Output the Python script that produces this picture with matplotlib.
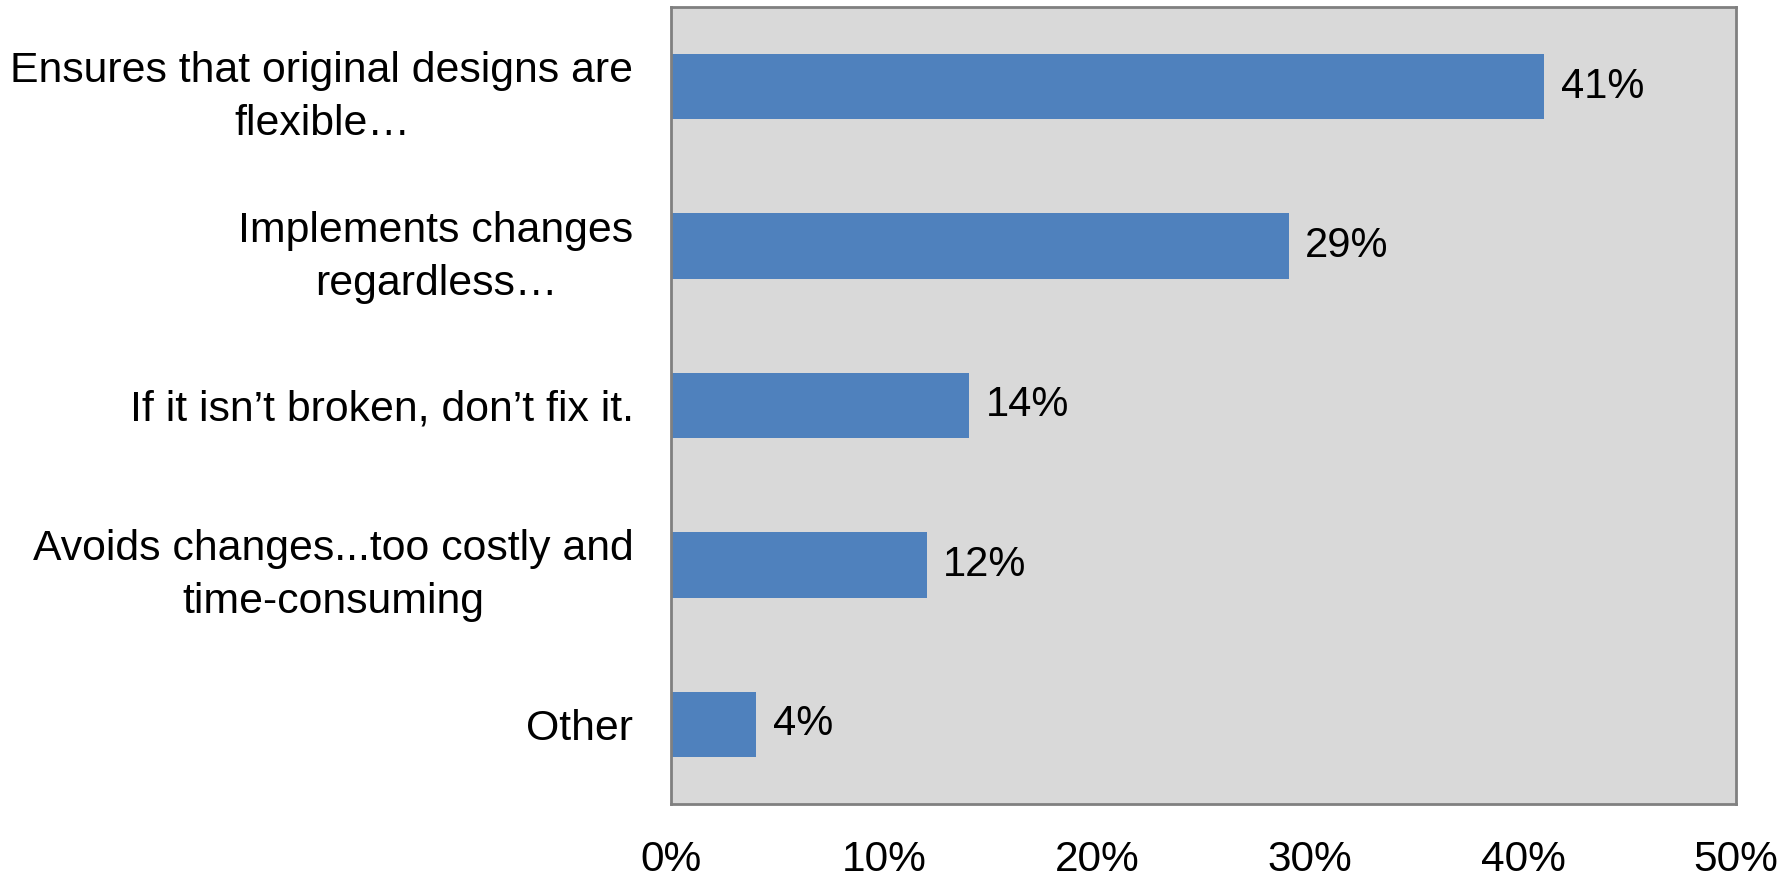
import matplotlib

matplotlib.use('Agg')

import matplotlib.pyplot as plt

plt.rcParams['font.family'] = ['Liberation Sans', 'DejaVu Sans']

# survey answers, top to bottom
categories = [
    "Ensures that original designs are\nflexible…",
    "Implements changes\nregardless…",
    "If it isn’t broken, don’t fix it.",
    "Avoids changes...too costly and\ntime-consuming",
    "Other",
]
values = [41, 29, 14, 12, 4]
xticks = [0, 10, 20, 30, 40, 50]


def main():
    fig = plt.figure(figsize=(17.88, 8.73), dpi=100)
    ax = fig.add_axes([671 / 1788, 1 - 804 / 873, (1736 - 671) / 1788, (804 - 7) / 873])

    pos = list(range(len(values)))
    ax.barh(pos, values, height=0.41, color='#4F81BD', zorder=2)
    ax.set_ylim(len(values) - 0.5, -0.5)
    ax.set_xlim(0, 50)
    ax.set_facecolor('#D9D9D9')

    for s in ax.spines.values():
        s.set_color('#808080')
        s.set_linewidth(2)

    ax.set_yticks(pos)
    ax.set_yticklabels(categories, fontsize=30.8, multialignment='center', linespacing=1.42)
    ax.set_xticks(xticks)
    ax.set_xticklabels(["{}%".format(t) for t in xticks], fontsize=30.5)
    ax.tick_params(axis='y', length=0, pad=27)
    ax.tick_params(axis='x', length=0, pad=26)

    for p, v in zip(pos, values):
        ax.annotate("{}%".format(v), (v, p), xytext=(12, 0), textcoords='offset points',
                    va='center', ha='left', fontsize=30)

    fig.savefig('out.png', dpi=100)


if __name__ == '__main__':
    main()
